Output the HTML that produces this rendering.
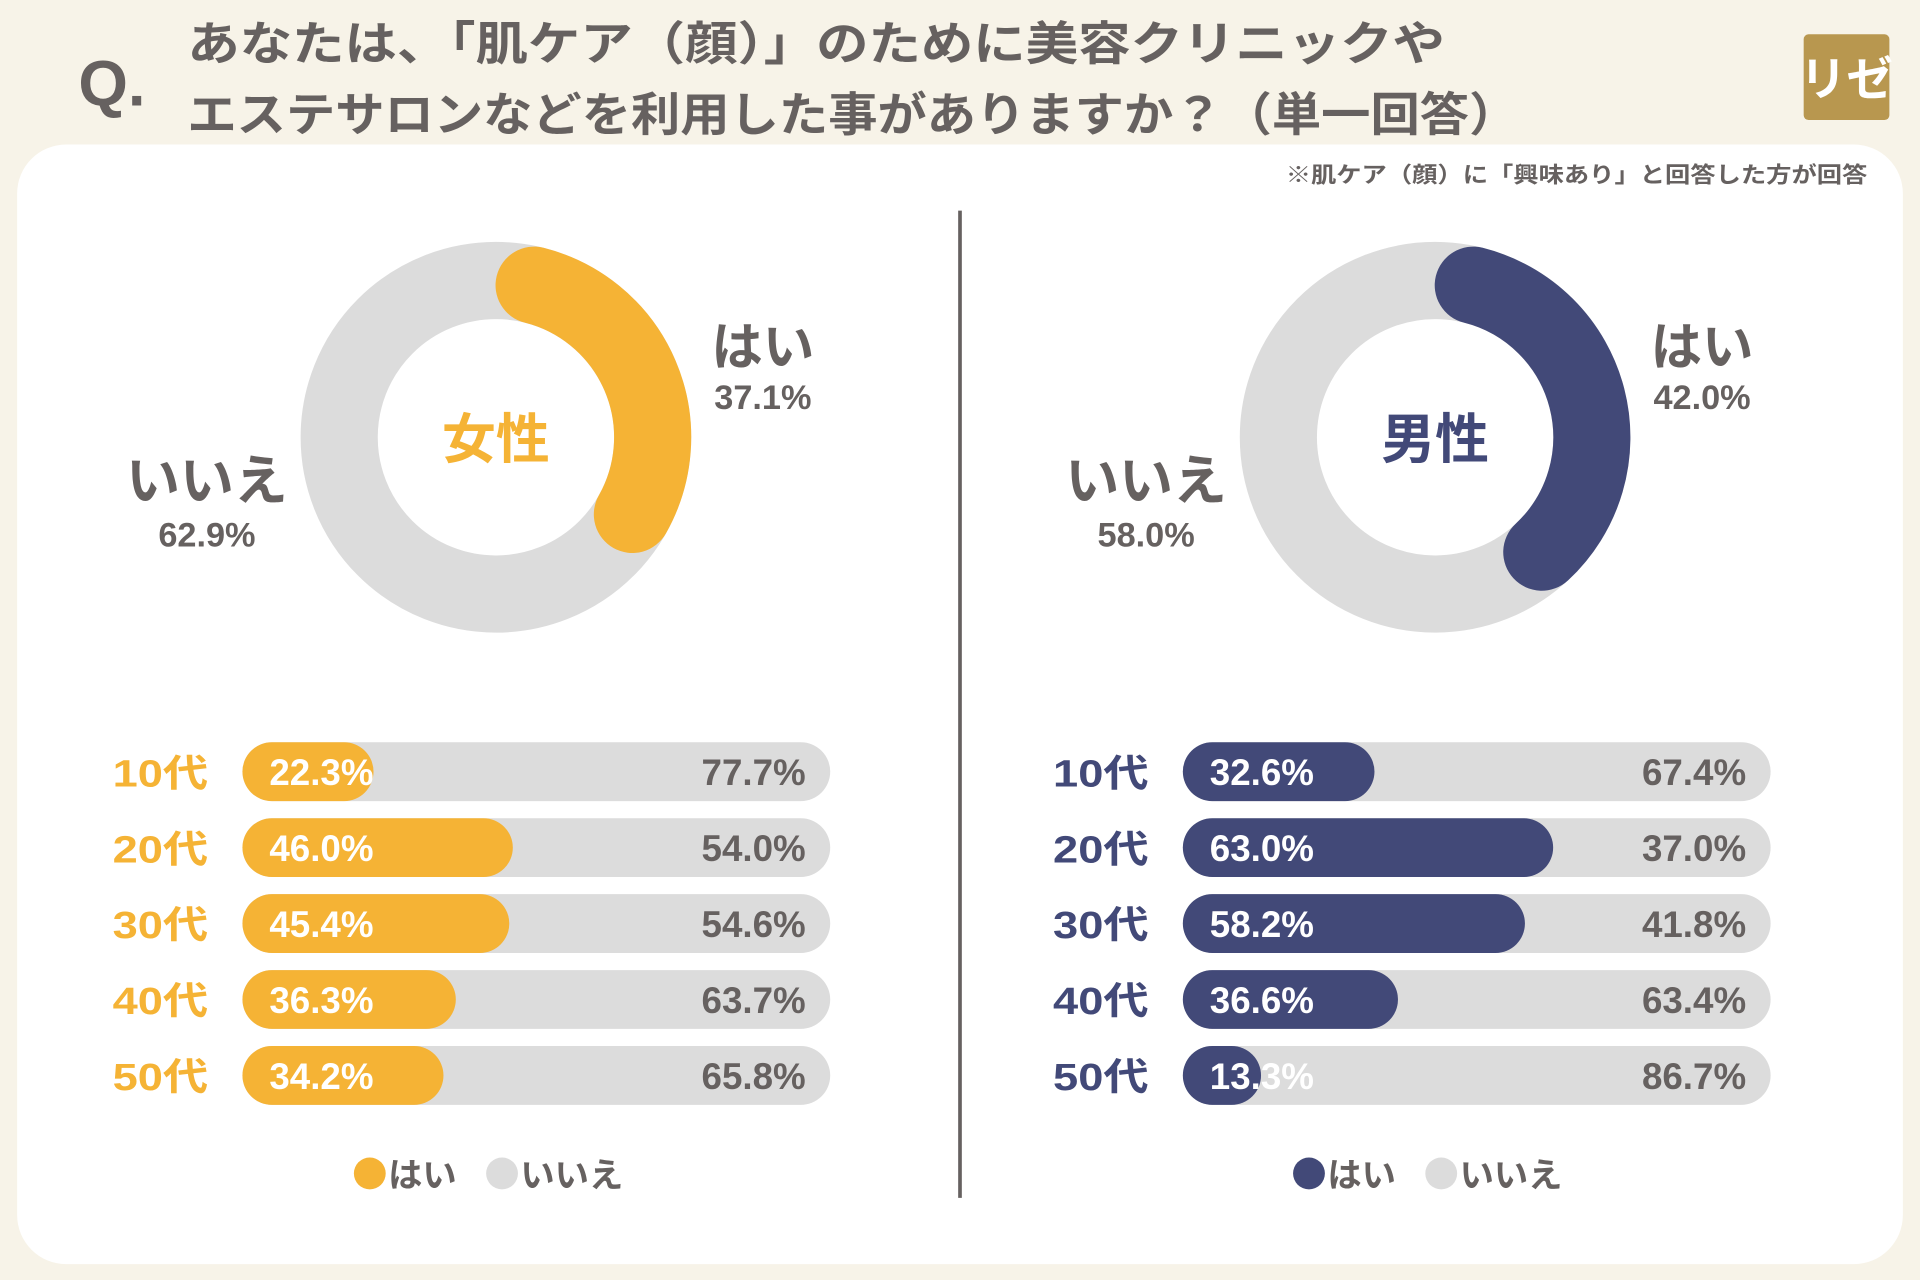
<!DOCTYPE html>
<html><head><meta charset="utf-8"><style>
html,body{margin:0;padding:0;background:#f7f3e8;}
svg{display:block;}
text{font-family:"Liberation Sans","Noto Sans CJK JP",sans-serif;font-weight:bold;}
</style></head><body>
<svg id="chart" width="1920" height="1280" viewBox="0 0 1568 1045" preserveAspectRatio="none" xmlns="http://www.w3.org/2000/svg">
<rect x="0" y="0" width="1568" height="1045" fill="#f7f3e8"/>
<text x="64" y="86" font-size="52" fill="#666160">Q.</text>
<text x="153" y="49" font-size="38" fill="#666160" textLength="1027" lengthAdjust="spacingAndGlyphs">あなたは、「肌ケア（顔）」のために美容クリニックや</text>
<text x="153" y="107" font-size="38" fill="#666160" textLength="1087" lengthAdjust="spacingAndGlyphs">エステサロンなどを利用した事がありますか？（単一回答）</text>
<rect x="1473" y="28" width="70" height="70" rx="4" fill="#b8974f"/>
<text x="1508" y="78" font-size="38" fill="#fff" text-anchor="middle">リゼ</text>
<rect x="14" y="118" width="1540" height="914" rx="40" fill="#fff"/>
<text x="1050" y="149" font-size="18" fill="#666160" textLength="475" lengthAdjust="spacingAndGlyphs">※肌ケア（顔）に「興味あり」と回答した方が回答</text>
<line x1="784" y1="172" x2="784" y2="978" stroke="#666160" stroke-width="3"/>
<g id="plots"></g>
</svg>
<script>
const groups = ["女性", "男性"];
const donutYes = [37.1, 42.0];
const donutNo = [62.9, 58.0];
const ages = ["10代", "20代", "30代", "40代", "50代"];
const femaleYes = [22.3, 46.0, 45.4, 36.3, 34.2];
const femaleNo = [77.7, 54.0, 54.6, 63.7, 65.8];
const maleYes = [32.6, 63.0, 58.2, 36.6, 13.3];
const maleNo = [67.4, 37.0, 41.8, 63.4, 86.7];

const NS = "http://www.w3.org/2000/svg";
const root = document.getElementById('plots');
function mk(tag, attrs, parent, txt) {
  const e = document.createElementNS(NS, tag);
  for (const k in attrs) e.setAttribute(k, attrs[k]);
  if (txt !== undefined) e.textContent = txt;
  (parent || root).appendChild(e);
  return e;
}
const colors = ["#f5b335", "#424978"];
const gray = "#dcdcdc", txt = "#666160";
const panels = [{cx:405, bx:198, yes:femaleYes, no:femaleNo}, {cx:1172, bx:966, yes:maleYes, no:maleNo}];
const R = 128, W = 63, BW = 480, BH = 48;
function pt(cx, cy, r, deg) { const a = (deg - 90) * Math.PI / 180; return [cx + r * Math.cos(a), cy + r * Math.sin(a)]; }
function yScale(i) { return 630 + i * 62; }
function xScale(v) { return v / 100 * BW; }

panels.forEach((p, g) => {
  const col = colors[g], cy = 357;
  const ring = mk('circle', {cx:p.cx, cy:cy, r:R, fill:'none', stroke:gray, 'stroke-width':W});
  
  
  const cap = (W / 2) / R * 180 / Math.PI;
  const a0 = cap, a1 = donutYes[g] / 100 * 360 - cap;
  const s = pt(p.cx, cy, R, a0), e = pt(p.cx, cy, R, a1);
  const arc = mk('path', {d:`M${s[0]},${s[1]} A${R},${R} 0 ${a1 - a0 > 180 ? 1 : 0} 1 ${e[0]},${e[1]}`, fill:'none', stroke:col, 'stroke-width':W, 'stroke-linecap':'round'});
  
  
  const c = mk('text', {x:p.cx, y:cy + 17, 'font-size':44, fill:col, 'text-anchor':'middle'}, root, groups[g]);
  
  
  const l1 = mk('text', {x:p.cx + 218, y:298, 'font-size':42, fill:txt, 'text-anchor':'middle'}, root, 'はい');
  
  
  const v1 = mk('text', {x:p.cx + 218, y:334, 'font-size':28, fill:txt, 'text-anchor':'middle'}, root, donutYes[g].toFixed(1) + '%');
  
  
  const l2 = mk('text', {x:p.cx - 236, y:408, 'font-size':44, fill:txt, 'text-anchor':'middle'}, root, 'いいえ');
  
  
  const v2 = mk('text', {x:p.cx - 236, y:446, 'font-size':28, fill:txt, 'text-anchor':'middle'}, root, donutNo[g].toFixed(1) + '%');
  
  

  ages.forEach((a, i) => {
    const y = yScale(i);
    const al = mk('text', {x:p.bx - 106, y:y + 12, 'font-size':31, fill:col, textLength:78, lengthAdjust:'spacingAndGlyphs'}, root, a);
    
    
    const bg = mk('rect', {x:p.bx, y:y - BH / 2, width:BW, height:BH, rx:BH / 2, fill:gray});
    
    
    const w = Math.max(xScale(p.yes[i]), BH);
    const fg = mk('rect', {x:p.bx, y:y - BH / 2, width:w, height:BH, rx:BH / 2, fill:col});
    
    
    const yv = mk('text', {x:p.bx + 22, y:y + 11, 'font-size':30, fill:'#fff'}, root, p.yes[i].toFixed(1) + '%');
    
    
    const nv = mk('text', {x:p.bx + BW - 20, y:y + 11, 'font-size':30, fill:txt, 'text-anchor':'end'}, root, p.no[i].toFixed(1) + '%');
    
    
  });
  const lx = p.cx - 103;
  const d1 = mk('circle', {cx:lx, cy:958, r:13, fill:col});
  
  
  const t1 = mk('text', {x:lx + 15, y:969, 'font-size':28, fill:txt}, root, 'はい');
  
  
  const d2 = mk('circle', {cx:lx + 108, cy:958, r:13, fill:gray});
  
  
  const t2 = mk('text', {x:lx + 123, y:969, 'font-size':28, fill:txt}, root, 'いいえ');
  
  
});
</script>
</body></html>
